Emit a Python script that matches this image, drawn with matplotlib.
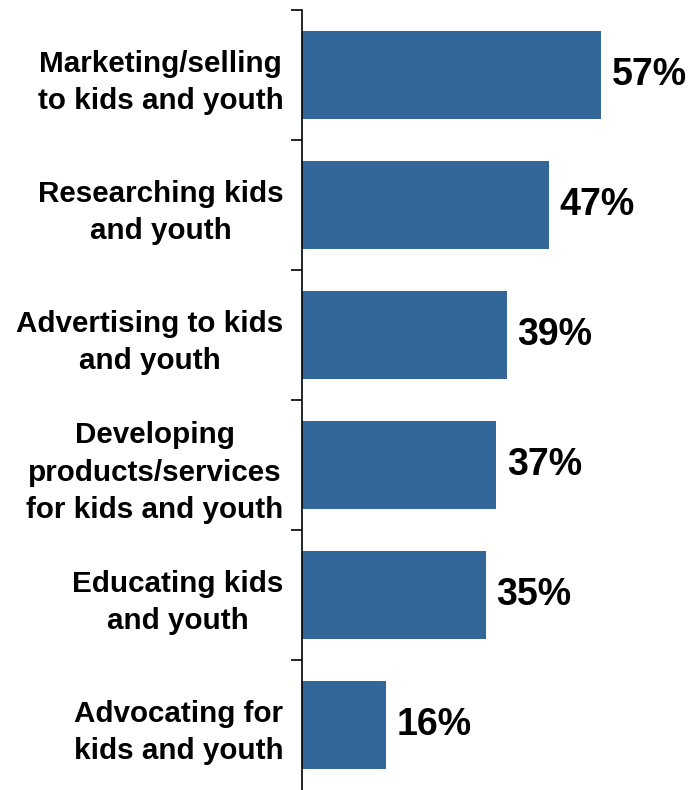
import matplotlib
matplotlib.use("Agg")
import matplotlib.pyplot as plt
import numpy as np

# categories top to bottom, share in percent
categories = [
    "Marketing/selling\nto kids and youth",
    "Researching kids\nand youth",
    "Advertising to kids\nand youth",
    "Developing\nproducts/services\nfor kids and youth",
    "Educating kids\nand youth",
    "Advocating for\nkids and youth",
]
values = [57, 47, 39, 37, 35, 16]

plt.rcParams['font.family'] = ['Liberation Sans', 'DejaVu Sans']

fig = plt.figure(figsize=(6.96, 7.90), dpi=100)
ax = fig.add_axes([302 / 696, 0.0, 1 - 302 / 696, 1 - 10 / 790])

pos = np.arange(len(categories))
bars = ax.barh(pos, values, height=0.67, color='#336699')

for b, v in zip(bars, values):
    ax.text(b.get_width() + 2.0, b.get_y() + b.get_height() / 2, f"{v}%",
            va='center', ha='left', fontsize=27, fontweight='bold')

ax.set_xlim(0, 75)
ax.set_ylim(len(categories) - 0.5, -0.5)

# ticks at the band edges (bottom one falls off the figure), labels at the centres
ax.set_yticks(np.arange(len(categories)) - 0.5)
ax.set_yticklabels([])
ax.set_yticks(pos, minor=True)
ax.set_yticklabels(categories, minor=True, fontsize=21.3, fontweight='bold',
                   multialignment='center', linespacing=1.42)
ax.tick_params(axis='y', which='major', length=8, width=1.2, direction='out')
ax.tick_params(axis='y', which='minor', length=0, pad=13.5)
ax.set_xticks([])

for s in ['top', 'right', 'bottom']:
    ax.spines[s].set_visible(False)
ax.spines['left'].set_linewidth(1.2)

fig.savefig("out.png", dpi=100)
